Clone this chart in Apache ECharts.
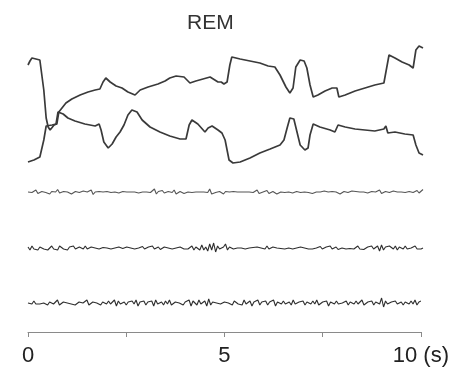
<!DOCTYPE html>
<html>
<head>
<meta charset="utf-8">
<script src="https://cdn.jsdelivr.net/npm/echarts@6/dist/echarts.min.js"></script>
<style>html,body{margin:0;padding:0;background:#fff}#c{width:452px;height:371px}</style>
</head>
<body>
<div id="c"></div>
<script>
const title = 'REM';
const xTicks = [0, 5, 10];
const xUnit = '(s)';

// EOG upper trace: time (s) and amplitude
const upperT = [0,0.05,0.1,0.2,0.3,0.35,0.4,0.46,0.51,0.56,0.61,0.66,0.73,0.78,0.86,0.96,1.11,1.32,1.52,1.7,1.82,1.9,1.97,2.08,2.23,2.38,2.53,2.71,2.84,3.04,3.29,3.47,3.59,3.75,3.95,4.1,4.25,4.43,4.61,4.73,4.81,4.89,4.96,5.04,5.11,5.16,5.37,5.62,5.87,6.08,6.25,6.38,6.53,6.63,6.71,6.78,6.89,6.99,7.06,7.14,7.22,7.34,7.52,7.7,7.82,7.87,8.03,8.28,8.53,8.78,9.01,9.06,9.14,9.29,9.47,9.65,9.75,9.82,9.9,10];
const upperV = [105,109,112,111,110,108,80,52,43,40,42,45,46,58,62,67,71,75,78,80,81,88,92,88,84,82,78,75,80,83,86,89,92,94,93,87,89,91,93,90,88,88,86,88,105,113,111,109,107,104,103,95,83,77,82,103,110,109,102,85,73,75,79,82,82,73,75,79,82,85,87,88,115,112,108,105,102,120,124,122];

// EOG lower trace
const lowerT = [0,0.15,0.3,0.35,0.4,0.46,0.51,0.61,0.71,0.76,0.81,0.89,1.01,1.19,1.44,1.7,1.8,1.85,1.92,2.03,2.13,2.23,2.33,2.43,2.53,2.63,2.76,2.89,3.09,3.34,3.59,3.85,4.0,4.08,4.15,4.3,4.48,4.56,4.66,4.81,4.91,4.99,5.09,5.19,5.37,5.62,5.87,6.13,6.38,6.48,6.56,6.63,6.73,6.81,6.89,7.01,7.09,7.14,7.22,7.39,7.65,7.77,7.85,8.03,8.28,8.53,8.78,9.01,9.06,9.11,9.29,9.54,9.75,9.82,9.9,10];
const lowerV = [8,10,13,15,30,44,46,45,46,58,60,56,52,49,46,44,46,40,28,22,26,33,38,45,55,60,58,50,43,38,34,31,31,45,50,46,38,42,44,40,37,30,10,7,8,12,17,21,25,30,42,52,51,38,25,20,22,35,46,43,40,38,45,43,41,40,39,41,44,37,38,36,35,25,17,15];

// Noise traces, sampled every 0.05 s from 0 to 10 s
const emg = [0,0.5,-0.5,0,2,-1.5,0,0.5,0,-0.5,1,-2,0.5,0,0,2.5,-1,0,0.5,-0.5,
0,1.5,-2,0,0.5,0,-0.5,0,1,-1,0,0.5,2,-2.5,0,0,0.5,-0.5,0,0,
0.5,0,-0.5,0,0,1,-1,0,0.5,0,0,-0.5,0,0.5,0,0,-1,0.5,0,0,
0,0.5,-0.5,0,3,-2,0.5,-1,1.5,-1,0,0.5,0,-0.5,2,-2,0,0.5,1.5,-1.5,
0,0,0.5,-0.5,0,0,0.5,0,-0.5,0,1,-0.5,3,-2,0,-0.5,0,0.5,2.5,-2,
0.5,0,0,-0.5,0.5,0,0,-0.5,0,0.5,0,-0.5,0,1,-0.5,0,2,-1.5,0.5,0,
0,1.5,-1.5,0,0.5,2,-2,0,0,0.5,-0.5,0,0,1,-1,0,0.5,0,-0.5,0,
0,0.5,-0.5,1.5,-1.5,0,0,0.5,0,-0.5,1,-1,0,0,0.5,-0.5,0,2,-2,0,
0.5,0,-0.5,0,1,-1,0.5,0,0,-0.5,0,1.5,-1,0,0.5,-0.5,0,0,2,-1.5,
0,0.5,0,-0.5,0,1,-1,0,0.5,0,1,-0.5,0,0.5,0,-0.5,0,1.5,-1,0.5,
2.5];

const eeg1 = [1,-2,2,-1,0,-2,1,2,-1,1,-2,0,2,-1,1,-2,2,0,-1,1,
-2,1,0,2,-1,-2,1,0,-1,2,-1,0,1,-1,0,1,-1,0,0.5,-0.5,
0,1,-1,0.5,0,-1,1,0,-0.5,0.5,1,-1,0,0.5,-1,1,0,-1,1.5,-1,
0,1,-1,2,-1,0,1,-1.5,0,1,-0.5,0,1,-1,0.5,0,-1,1,2,-1,
1,-1,0,2,-2,1,2,-2,3,-2,1,-3,4,-2,5,-4,2,-1,-3,1,
4,-2,1,0,-1,0.5,0,-0.5,0,0.5,-1,1,0,-1,0.5,0,1,-1,0,1,
-1,2,-1,0,1,-1,0,1,-0.5,0,-1,0.5,0,1,-1,0.5,0,-0.5,1,-1,
0,1.5,-1,0.5,-1,1,0,-1,1.5,-1,0,1,-1,2,-1,0,1,-1.5,0.5,0,
1,-1,0.5,-0.5,1,-1,0,2,-1,1,-1.5,0,1,-1,2,-1,0,2,-3,3,
-2,1,-1,2,0,-1,2,-2,1,0,-1,2,-1,1,0,-2,2,-1,1,-1,
0];

const eeg2 = [0,1,-1,2,-1,0,-1,1,0,2,-2,1,0,-1,1,3,-2,0,1,-1,
0,2,-1,1,-2,0,1,-1,0,1,3,-2,0,1,-1,0,2,-2,1,0,
-1,2,-1,0,3,-3,2,-1,0,1,-2,1,0,2,-1,3,-3,1,0,2,
-2,1,0,2,-3,3,-1,0,1,-2,2,-1,3,-2,0,1,-1,0,2,-2,
1,-1,3,-3,2,0,-2,3,-1,0,2,-3,4,-2,1,-1,0,1,-1,0,
1,-1,0,1,-2,2,0,-1,1,-2,3,-1,0,2,-3,1,-1,3,-2,1,
0,2,-2,1,-1,3,-3,1,0,-1,2,-1,0,1,-2,3,-1,0,1,-1,
2,-2,1,0,-1,2,-1,3,-2,0,1,-1,2,-3,1,0,-1,2,-1,1,
0,-1,2,-2,1,0,-1,2,-1,1,3,-2,0,1,-1,2,-2,1,0,-1,
5,-4,2,-1,0,1,-1,2,-1,0,1,-2,1,0,-1,2,-1,3,-2,1,
2];

function pairs(t, v) { return t.map((x, i) => [x, v[i]]); }
function sampled(v) { const step = 10 / (v.length - 1); return v.map((y, i) => [i * step, y]); }

const L = 28, W = 395;
const grids = [
  { left: L, width: W, top: 40, height: 130 },
  { left: L, width: W, top: 180, height: 24 },
  { left: L, width: W, top: 236, height: 24 },
  { left: L, width: W, top: 291, height: 41 }
];
const hiddenX = (i) => ({ type: 'value', gridIndex: i, min: 0, max: 10, show: false });
const xAxes = [hiddenX(0), hiddenX(1), hiddenX(2), {
  type: 'value', gridIndex: 3, min: 0, max: 10, interval: 2.5,
  axisLine: { show: true, onZero: false, lineStyle: { color: '#8a8a8a', width: 1 } },
  axisTick: { show: true, length: 5, lineStyle: { color: '#8a8a8a' } },
  splitLine: { show: false },
  axisLabel: {
    margin: 13, color: '#222', fontSize: 22, fontFamily: 'Liberation Sans, Arial, sans-serif',
    formatter: v => xTicks.includes(v) ? (v === 10 ? v + ' ' + xUnit : String(v)) : ''
  }
}];
const yAxes = [
  { type: 'value', gridIndex: 0, min: 0, max: 130, show: false },
  { type: 'value', gridIndex: 1, min: -12, max: 12, show: false },
  { type: 'value', gridIndex: 2, min: -12, max: 12, show: false },
  { type: 'value', gridIndex: 3, min: -29, max: 12, show: false }
];
const lineSeries = (data, gi, color, width) => ({
  type: 'line', xAxisIndex: gi, yAxisIndex: gi, data, showSymbol: false, symbol: 'none',
  animation: false, silent: true, lineStyle: { color, width }
});

const chart = echarts.init(document.getElementById('c'), null, { renderer: 'canvas' });
chart.setOption({
  backgroundColor: '#fff',
  animation: false,
  title: { text: title, left: 182, top: 8, textStyle: { fontSize: 21, fontWeight: 'normal', color: '#333', fontFamily: 'Liberation Sans, Arial, sans-serif' } },
  grid: grids,
  xAxis: xAxes,
  yAxis: yAxes,
  series: [
    lineSeries(pairs(upperT, upperV), 0, '#3a3a3a', 1.7),
    lineSeries(pairs(lowerT, lowerV), 0, '#3a3a3a', 1.7),
    lineSeries(sampled(emg), 1, '#555', 1.1),
    lineSeries(sampled(eeg1), 2, '#2e2e2e', 1.1),
    lineSeries(sampled(eeg2), 3, '#2e2e2e', 1.1)
  ]
});
</script>
</body>
</html>
